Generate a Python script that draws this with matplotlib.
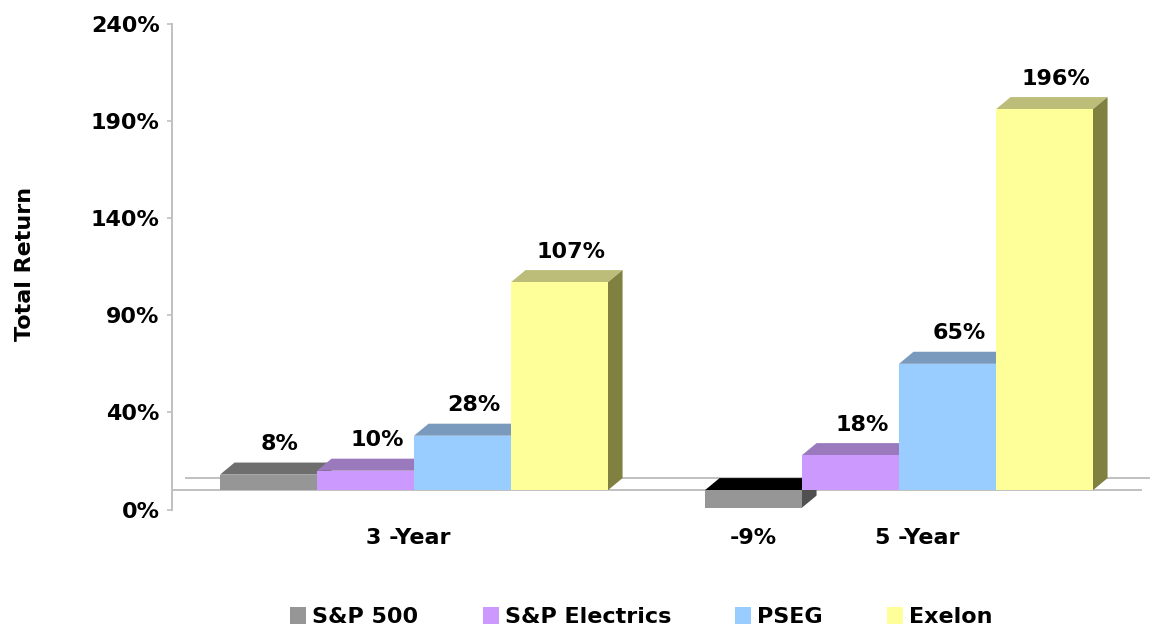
import matplotlib
matplotlib.use('Agg')
import matplotlib.pyplot as plt
from matplotlib.patches import Polygon, Patch

# data
categories = ['3 -Year', '5 -Year']
series = ['S&P 500', 'S&P Electrics', 'PSEG', 'Exelon']
returns_3yr = [8, 10, 28, 107]
returns_5yr = [-9, 18, 65, 196]
ytick_values = [-10, 40, 90, 140, 190, 240]
ytick_labels = ['0%', '40%', '90%', '140%', '190%', '240%']

# Excel-like 3D colours: front, top, side
front = ['#969696', '#CC99FF', '#99CCFF', '#FFFF99']
top = ['#6E6E6E', '#9A7ABD', '#7A9ABD', '#BDBD7A']
side = ['#505050', '#664D80', '#4D6680', '#808040']

plt.rcParams['font.family'] = 'DejaVu Sans'
plt.rcParams['font.weight'] = 'bold'
fs = 16

fig = plt.figure(figsize=(11.5, 6.32), dpi=100)
ax = fig.add_axes([171.5 / 1150, 1 - 509.6 / 632, 970 / 1150, 486 / 632])
ax.set_xlim(-0.5, 1.5)
ax.set_ylim(-10, 240)

width = 0.2
dx, dy = 0.03, 6.2   # depth offset of the 3D effect
grid_col = '#C0C0C0'

# floor: front edge and back edge
ax.axhline(0, color=grid_col, lw=1.4, zorder=1)
ax.plot([-0.5 + dx, 1.5 + dx], [dy, dy], color=grid_col, lw=1.4,
        zorder=1, clip_on=False)

data = [returns_3yr, returns_5yr]
for i, vals in enumerate(data):
    for j, v in enumerate(vals):
        xc = i + (j - 1.5) * width
        x0, x1 = xc - width / 2, xc + width / 2
        z = 2 + j * 0.1
        ax.bar(xc, v, width=width, color=front[j], zorder=z + 0.05,
               linewidth=0)
        topc = top[j] if v >= 0 else '#000000'
        ytop = max(v, 0)
        ax.add_patch(Polygon([(x0, ytop), (x1, ytop), (x1 + dx, ytop + dy),
                              (x0 + dx, ytop + dy)], closed=True,
                             facecolor=topc, edgecolor='none', zorder=z))
        ax.add_patch(Polygon([(x1, 0), (x1 + dx, dy), (x1 + dx, v + dy),
                              (x1, v)], closed=True,
                             facecolor=side[j], edgecolor='none', zorder=z))
        lbl = '{}%'.format(v)
        if v >= 0:
            ax.annotate(lbl, (xc + dx / 2, v + dy), xytext=(3, 9),
                        textcoords='offset points', ha='center',
                        va='baseline', fontsize=fs, fontweight='bold',
                        zorder=10)
        else:
            ax.annotate(lbl, (xc, v), xytext=(0, -22),
                        textcoords='offset points', ha='center',
                        va='center', fontsize=fs, fontweight='bold',
                        zorder=10)

# category labels under the groups
cat_shift = [-4, 13]
for i, c in enumerate(categories):
    ax.annotate(c, (i, -10), xytext=(cat_shift[i], -20.5),
                textcoords='offset points', ha='center', va='center',
                fontsize=fs, fontweight='bold', annotation_clip=False)

# axes styling
for s in ['top', 'right', 'bottom']:
    ax.spines[s].set_visible(False)
ax.spines['left'].set_color(grid_col)
ax.spines['left'].set_linewidth(1.4)
ax.set_xticks([])
ax.set_yticks(ytick_values)
ax.set_yticklabels(ytick_labels, fontsize=fs, fontweight='bold')
ax.tick_params(axis='y', color=grid_col, length=3.6, width=1.2, pad=5)

fig.text(25 / 1150, 1 - 264 / 632, 'Total Return', rotation=90,
         ha='center', va='center', fontsize=fs, fontweight='bold')

handles = [Patch(facecolor=front[k], edgecolor='none') for k in range(4)]
fig.legend(handles, series, loc='center left',
           bbox_to_anchor=(290 / 1150, 1 - 617 / 632), ncol=4, frameon=False,
           fontsize=fs, handlelength=0.72, handleheight=0.8,
           handletextpad=0.27, columnspacing=2.9, borderpad=0,
           borderaxespad=0, prop={'weight': 'bold', 'size': fs})

fig.savefig('out.png', dpi=100)
